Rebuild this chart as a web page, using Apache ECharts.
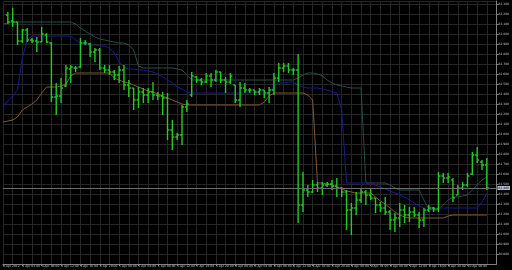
<!DOCTYPE html>
<html><head><meta charset="utf-8">
<script src="https://cdn.jsdelivr.net/npm/echarts@6/dist/echarts.min.js"></script>
<style>html,body{margin:0;padding:0;background:#000;}#c{width:512px;height:270px;}</style>
</head><body><div id="c"></div>
<script>
// x-axis tick labels (one every 4 hourly bars)
const xLabels = ['4 Apr 2012','4 Apr 04:00','4 Apr 08:00','4 Apr 12:00','4 Apr 16:00','4 Apr 20:00',
  '5 Apr 00:00','5 Apr 04:00','5 Apr 08:00','5 Apr 12:00','5 Apr 16:00','5 Apr 20:00',
  '6 Apr 00:00','6 Apr 04:00','6 Apr 08:00','6 Apr 12:00','6 Apr 16:00','6 Apr 20:00',
  '9 Apr 00:00','9 Apr 04:00','9 Apr 08:00','9 Apr 12:00','9 Apr 16:00','9 Apr 20:00',
  '10 Apr 00:00','10 Apr 04:00'];

const openP = [null, 83.19, 83.13, 83.12, 82.93, 83.04, 82.94, 82.93, 82.92, 82.99,
 82.91, 82.37, 82.38, 82.48, 82.65, 82.66, 82.67, 82.91, 82.90, 82.82,
 82.84, 82.66, 82.64, 82.62, 82.59, 82.64, 82.49, 82.46, 82.34, 82.42,
 82.39, 82.42, 82.39, 82.38, 82.36, 82.04, 81.97, 81.99, 82.27, 82.39,
 82.57, 82.54, 82.52, 82.58, 82.54, 82.62, 82.54, 82.52, 82.49, 82.34,
 82.46, 82.44, 82.44, 82.42, 82.44, 82.41, 82.44, 82.56, 82.66, 82.68,
 82.64, 82.64, 81.29, 81.44, 81.42, 81.49, 81.46, 81.49, 81.50, 81.48,
 81.46, 81.42, 81.24, 81.26, 81.34, 81.42, 81.39, 81.36, 81.29, 81.26,
 81.22, 81.14, 81.16, 81.24, 81.19, 81.22, 81.19, 81.14, 81.24, 81.26,
 81.25, 81.58, 81.56, 81.54, 81.39, 81.46, 81.49, 81.60, 81.79, 81.72,
 81.69];
const highP = [null, 83.22, 83.26, 83.12, 83.05, 83.06, 82.96, 82.97, 83.07, 83.01,
 82.92, 82.51, 82.56, 82.69, 82.69, 82.68, 82.96, 82.94, 82.91, 82.86,
 82.86, 82.69, 82.69, 82.64, 82.68, 82.69, 82.54, 82.46, 82.47, 82.46,
 82.46, 82.52, 82.42, 82.42, 82.41, 82.14, 82.01, 82.29, 82.34, 82.62,
 82.58, 82.56, 82.61, 82.61, 82.64, 82.62, 82.57, 82.61, 82.49, 82.52,
 82.51, 82.46, 82.44, 82.46, 82.44, 82.47, 82.61, 82.71, 82.71, 82.71,
 82.66, 82.80, 81.62, 81.49, 81.54, 81.52, 81.52, 81.52, 81.54, 81.56,
 81.47, 81.44, 81.31, 81.42, 81.46, 81.44, 81.46, 81.36, 81.32, 81.37,
 81.24, 81.21, 81.31, 81.29, 81.27, 81.27, 81.22, 81.26, 81.29, 81.27,
 81.62, 81.61, 81.61, 81.56, 81.49, 81.52, 81.61, 81.82, 81.87, 81.74,
 81.76];
const lowP = [null, 83.10, 83.07, 82.89, 82.91, 82.92, 82.91, 82.82, 82.92, 82.91,
 82.32, 82.19, 82.31, 82.47, 82.51, 82.62, 82.66, 82.89, 82.77, 82.72,
 82.64, 82.61, 82.59, 82.54, 82.51, 82.44, 82.37, 82.24, 82.26, 82.31,
 82.31, 82.34, 82.34, 82.19, 81.94, 81.84, 81.94, 81.89, 82.22, 82.37,
 82.51, 82.49, 82.51, 82.47, 82.52, 82.51, 82.41, 82.50, 82.31, 82.27,
 82.41, 82.41, 82.39, 82.39, 82.36, 82.31, 82.39, 82.52, 82.62, 82.61,
 82.59, 81.11, 81.22, 81.37, 81.41, 81.42, 81.39, 81.47, 81.44, 81.37,
 81.37, 81.04, 80.99, 81.19, 81.31, 81.29, 81.34, 81.21, 81.22, 81.19,
 81.04, 81.02, 81.07, 81.11, 81.12, 81.17, 81.06, 81.07, 81.22, 81.22,
 81.22, 81.51, 81.51, 81.32, 81.39, 81.44, 81.47, 81.59, 81.71, 81.64,
 81.44];
const closeP = [null, 83.12, 83.12, 82.93, 83.04, 82.94, 82.93, 82.92, 83.00, 82.92,
 82.37, 82.38, 82.46, 82.66, 82.67, 82.66, 82.91, 82.91, 82.82, 82.84,
 82.66, 82.64, 82.62, 82.59, 82.64, 82.49, 82.46, 82.34, 82.42, 82.39,
 82.42, 82.39, 82.38, 82.36, 82.04, 81.97, 81.99, 82.27, 82.30, 82.58,
 82.54, 82.52, 82.58, 82.54, 82.62, 82.54, 82.52, 82.58, 82.34, 82.46,
 82.44, 82.44, 82.42, 82.44, 82.41, 82.44, 82.56, 82.66, 82.68, 82.64,
 82.64, 81.29, 81.44, 81.42, 81.49, 81.46, 81.49, 81.50, 81.48, 81.46,
 81.42, 81.24, 81.26, 81.34, 81.42, 81.39, 81.36, 81.29, 81.26, 81.22,
 81.14, 81.16, 81.24, 81.19, 81.22, 81.19, 81.14, 81.24, 81.26, 81.25,
 81.58, 81.56, 81.57, 81.36, 81.46, 81.49, 81.58, 81.79, 81.74, 81.69,
 81.46];

const tealLine = [83.10, 83.11, 83.12, 83.12, 83.12, 83.12, 83.12, 83.12, 83.12, 83.12,
 83.12, 83.12, 83.12, 83.12, 83.12, 83.10, 83.06, 83.03, 83.00, 82.97,
 82.95, 82.94, 82.93, 82.92, 82.91, 82.91, 82.89, 82.84, 82.68, 82.66,
 82.66, 82.66, 82.66, 82.66, 82.66, 82.66, 82.65, 82.64, 82.59, 82.54,
 82.54, 82.54, 82.54, 82.54, 82.54, 82.54, 82.54, 82.54, 82.54, 82.54,
 82.54, 82.54, 82.54, 82.54, 82.54, 82.54, 82.54, 82.54, 82.54, 82.54,
 82.54, 82.56, 82.59, 82.61, 82.61, 82.60, 82.58, 82.54, 82.51, 82.49,
 82.48, 82.47, 82.46, 82.46, 82.46, 81.51, 81.51, 81.51, 81.51, 81.51,
 81.49, 81.46, 81.44, 81.44, 81.44, 81.44, 81.44, 81.34, 81.25, 81.24,
 81.24, 81.29, 81.34, 81.37, 81.37, 81.38, 81.39, 81.44, 81.49, 81.54,
 81.57];
const blueLine = [82.28, 82.33, 82.38, 82.44, 82.76, 82.94, 82.98, 82.98, 82.98, 82.98,
 82.98, 82.98, 82.98, 82.98, 82.98, 82.94, 82.91, 82.89, 82.89, 82.89,
 82.88, 82.88, 82.86, 82.81, 82.72, 82.67, 82.65, 82.65, 82.64, 82.64,
 82.63, 82.62, 82.60, 82.57, 82.54, 82.51, 82.47, 82.45, 82.42, 82.41,
 82.41, 82.41, 82.41, 82.41, 82.41, 82.41, 82.41, 82.41, 82.41, 82.41,
 82.41, 82.41, 82.41, 82.41, 82.41, 82.41, 82.48, 82.51, 82.51, 82.52,
 82.52, 82.49, 82.47, 82.46, 82.46, 82.46, 82.45, 82.44, 82.42, 82.41,
 82.24, 81.51, 81.51, 81.51, 81.51, 81.51, 81.51, 81.49, 81.47, 81.45,
 81.43, 81.41, 81.39, 81.37, 81.34, 81.31, 81.28, 81.26, 81.26, 81.26,
 81.26, 81.26, 81.26, 81.26, 81.26, 81.26, 81.26, 81.26, 81.26, 81.32,
 81.41];
const brownLine = [82.12, 82.13, 82.14, 82.17, 82.24, 82.27, 82.30, 82.34, 82.41, 82.47,
 82.47, 82.47, 82.48, 82.50, 82.58, 82.61, 82.61, 82.61, 82.61, 82.61,
 82.61, 82.61, 82.61, 82.56, 82.54, 82.52, 82.51, 82.49, 82.47, 82.45,
 82.43, 82.42, 82.40, 82.38, 82.36, 82.34, 82.32, 82.30, 82.29, 82.29,
 82.29, 82.29, 82.29, 82.29, 82.29, 82.29, 82.29, 82.29, 82.29, 82.29,
 82.29, 82.29, 82.29, 82.29, 82.32, 82.38, 82.41, 82.41, 82.41, 82.41,
 82.41, 82.41, 82.41, 82.39, 82.34, 81.51, 81.51, 81.50, 81.49, 81.47,
 81.45, 81.43, 81.42, 81.41, 81.41, 81.41, 81.41, 81.37, 81.33, 81.30,
 81.26, 81.22, 81.19, 81.17, 81.16, 81.16, 81.16, 81.16, 81.16, 81.16,
 81.16, 81.16, 81.18, 81.19, 81.19, 81.19, 81.19, 81.19, 81.19, 81.19,
 81.19];

const lastPrice = 81.46;
const slotCount = 103;

const categories = [];
for (let i = 0; i < slotCount; i++) categories.push(String(i));
const barData = [];
for (let i = 0; i < openP.length; i++) {
  if (openP[i] == null) continue;
  barData.push([i, openP[i], closeP[i], lowP[i], highP[i]]);
}

const gridColor = '#262626';
const textColor = '#c4c4c4';
const chart = echarts.init(document.getElementById('c'), null, {renderer: 'canvas'});
chart.setOption({
  animation: false,
  backgroundColor: '#000',
  grid: {left: 1, right: 15, top: 1, bottom: 6, containLabel: false},
  xAxis: {
    type: 'category', data: categories, boundaryGap: false,
    axisLine: {show: true, lineStyle: {color: '#808080', width: 1}},
    axisTick: {show: true, interval: 3, length: 2, lineStyle: {color: '#808080'}},
    axisLabel: {interval: 3, fontSize: 3, color: textColor, margin: 1, align: 'left',
      fontFamily: 'DejaVu Sans',
      formatter: function (v, idx) { const k = idx / 4; return xLabels[k] || ''; }},
    splitLine: {show: true, interval: 1, lineStyle: {color: gridColor, width: 1}}
  },
  yAxis: {
    type: 'value', position: 'right', min: 80.70, max: 83.33, interval: 0.1, scale: true,
    axisLine: {show: true, lineStyle: {color: '#808080', width: 1}},
    axisTick: {show: true, length: 2, lineStyle: {color: '#808080'}},
    axisLabel: {fontSize: 3, color: textColor, margin: 2, fontFamily: 'DejaVu Sans',
      showMaxLabel: false, showMinLabel: false,
      formatter: function (v) { return v.toFixed(3); }},
    splitLine: {show: true, lineStyle: {color: gridColor, width: 1}}
  },
  series: [
    {type: 'line', data: tealLine, showSymbol: false, symbol: 'none',
     lineStyle: {color: '#264e4a', width: 1}, z: 2},
    {type: 'line', data: blueLine, showSymbol: false, symbol: 'none',
     lineStyle: {color: '#1a1a94', width: 1}, z: 2},
    {type: 'line', data: brownLine, showSymbol: false, symbol: 'none',
     lineStyle: {color: '#845830', width: 1}, z: 2,
     markLine: {silent: true, symbol: 'none', animation: false,
       lineStyle: {color: '#6c6c6c', type: 'solid', width: 1},
       label: {show: true, position: 'end', distance: 1, fontSize: 3, color: '#000',
         backgroundColor: '#b4c2d6', padding: [1, 1, 0, 1], fontFamily: 'DejaVu Sans',
         formatter: lastPrice.toFixed(3)},
       data: [{yAxis: lastPrice}]}},
    {type: 'custom', data: barData, z: 3,
     encode: {x: 0, y: [1, 2, 3, 4]},
     renderItem: function (params, api) {
       const x = api.value(0);
       const o = api.coord([x, api.value(1)]);
       const c = api.coord([x, api.value(2)]);
       const l = api.coord([x, api.value(3)]);
       const h = api.coord([x, api.value(4)]);
       const st = {stroke: '#22cc22', lineWidth: 1.4};
       return {type: 'group', children: [
         {type: 'line', shape: {x1: o[0], y1: h[1], x2: o[0], y2: l[1]}, style: st},
         {type: 'line', shape: {x1: o[0] - 2, y1: o[1], x2: o[0], y2: o[1]}, style: st},
         {type: 'line', shape: {x1: o[0], y1: c[1], x2: o[0] + 2, y2: c[1]}, style: st}
       ]};
     }}
  ]
});
</script></body></html>
